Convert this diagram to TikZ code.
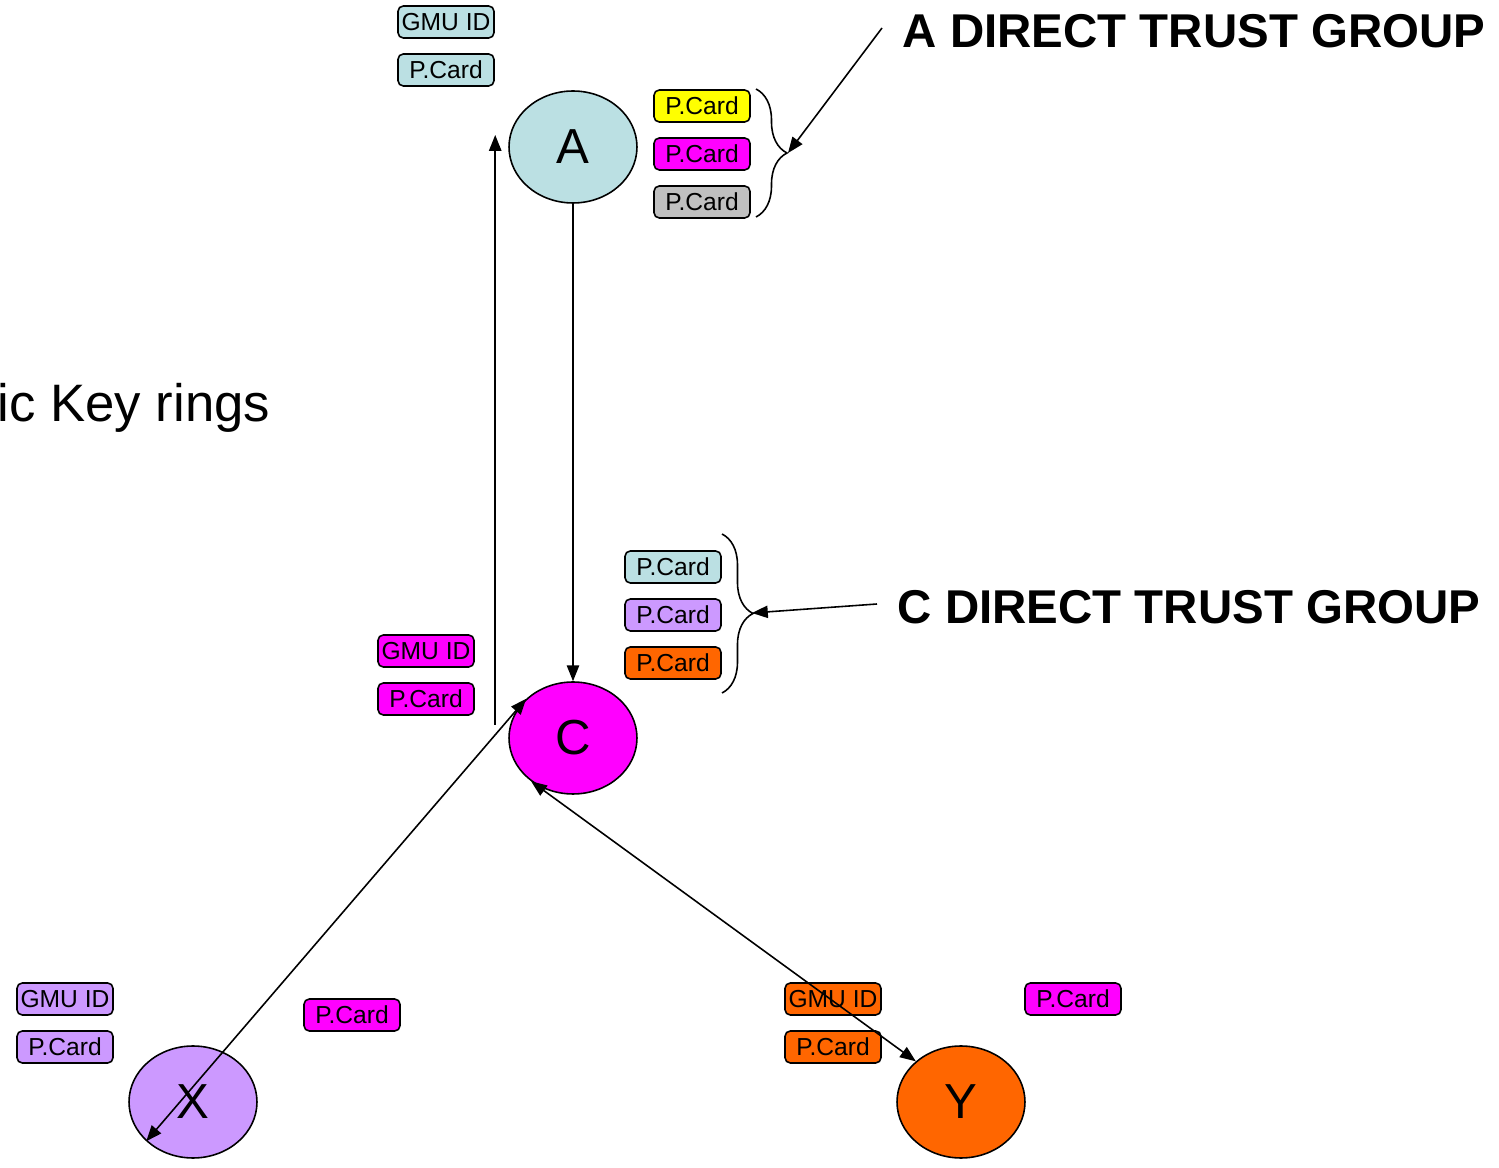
\documentclass[tikz,border=0pt]{standalone}
\usepackage{fontspec}
\setmainfont{Liberation Sans}
\usetikzlibrary{arrows.meta,shapes.geometric,decorations.pathreplacing}

\definecolor{ablue}{RGB}{187,224,227}
\definecolor{cpink}{RGB}{255,0,255}
\definecolor{ayellow}{RGB}{255,255,0}
\definecolor{xlilac}{RGB}{204,153,255}
\definecolor{yorange}{RGB}{255,102,0}
\definecolor{cgrey}{RGB}{192,192,192}

\begin{document}
\begin{tikzpicture}[x=0.02cm,y=-0.02cm,->,>={Triangle[length=9pt,width=7pt]},line width=0.9pt,node distance=0.96cm]
    \tikzstyle{peer}=[ellipse,draw,line width=0.9pt,minimum width=2.56cm,minimum height=2.24cm,inner sep=0pt,font=\fontsize{28}{30}\selectfont]
    \tikzstyle{card}=[draw,rounded corners=3pt,line width=0.9pt,minimum width=1.92cm,minimum height=0.64cm,inner sep=0pt,font=\fontsize{14}{16}\selectfont]
    \tikzstyle{title}=[anchor=base west,inner sep=0pt,font=\fontsize{27}{30}\selectfont\bfseries]
    \tikzstyle{group}=[-,decorate,decoration={brace,amplitude=0.62cm},line width=0.9pt]
    \useasboundingbox (0,0) rectangle (1499,1168);

    \node[anchor=base west,inner sep=0pt,font=\fontsize{30}{32}\selectfont] (rings) at (-3,422) {ic Key rings};

    \node[peer,fill=ablue] (A) at (573,147) {A};
    \node[peer,fill=cpink] (C) at (573,738) {C};
    \node[peer,fill=xlilac] (X) at (193,1102) {X};
    \node[peer,fill=yorange] (Y) at (961,1102) {Y};

    % key rings
    \node[card,fill=ablue] (ga) at (446,22) {GMU ID};
    \node[card,fill=ablue] (pa) [below of=ga] {P.Card};
    \node[card,fill=cpink] (gc) at (426,651) {GMU ID};
    \node[card,fill=cpink] (pc) [below of=gc] {P.Card};
    \node[card,fill=xlilac] (gx) at (65,999) {GMU ID};
    \node[card,fill=xlilac] (px) [below of=gx] {P.Card};
    \node[card,fill=cpink] (kx) at (352,1015) {P.Card};
    \node[card,fill=yorange] (gy) at (833,999) {GMU ID};
    \node[card,fill=yorange] (py) [below of=gy] {P.Card};
    \node[card,fill=cpink] (ky) at (1073,999) {P.Card};

    % trust groups
    \node[card,fill=ayellow] (a1) at (702,106) {P.Card};
    \node[card,fill=cpink] (a2) [below of=a1] {P.Card};
    \node[card,fill=cgrey] (a3) [below of=a2] {P.Card};
    \node[card,fill=ablue] (c1) at (673,567) {P.Card};
    \node[card,fill=xlilac] (c2) [below of=c1] {P.Card};
    \node[card,fill=yorange] (c3) [below of=c2] {P.Card};

    \draw[group] (756,89) -- (756,217);
    \draw[group] (722,534) -- (722,693);
    \coordinate (abrace) at (788,153);
    \coordinate (cbrace) at (752,613);

    \node[title] (tA) at (902,48) {A DIRECT TRUST GROUP};
    \node[title] (tC) at (897,624) {C DIRECT TRUST GROUP};
    \coordinate (tAfoot) at (882,28);
    \coordinate (tCfoot) at (877,604);

    \path (A) edge (C)
    ([shift={(-13,-13)}]C.west) edge ([shift={(-13,-12)}]A.west)
    (C.140) edge[<->] (X.220)
    (C.226) edge[<->] (Y.138)
    (tAfoot) edge (abrace)
    (tCfoot) edge (cbrace);
\end{tikzpicture}
\end{document}
